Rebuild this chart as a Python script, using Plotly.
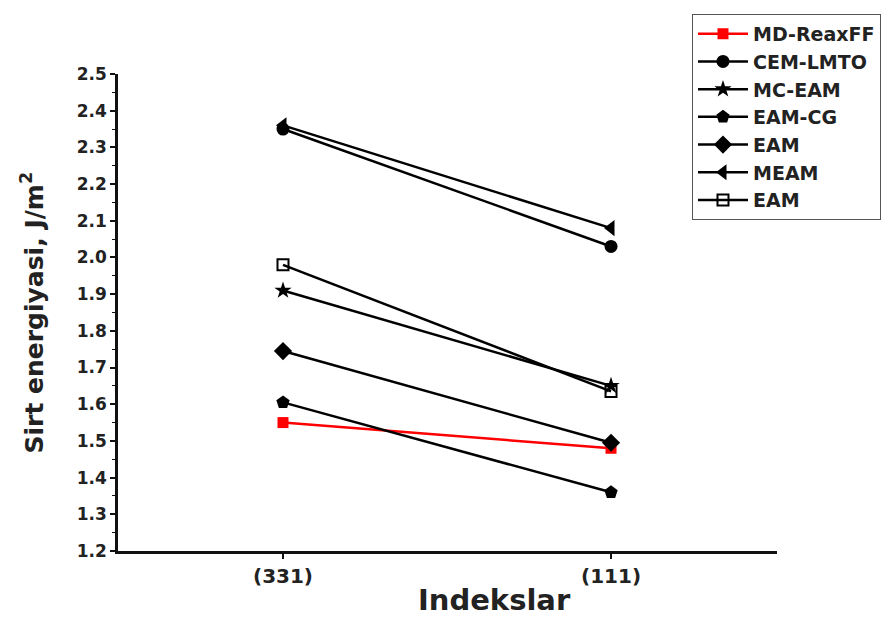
import plotly.graph_objects as go

categories = ["(331)", "(111)"]
series_names = ["MD-ReaxFF", "CEM-LMTO", "MC-EAM", "EAM-CG", "EAM", "MEAM", "EAM"]
md_reaxff = [1.55, 1.48]
cem_lmto = [2.35, 2.03]
mc_eam = [1.91, 1.65]
eam_cg = [1.605, 1.36]
eam_diamond = [1.745, 1.495]
meam = [2.36, 2.08]
eam_square = [1.98, 1.635]
y_ticks = [1.2, 1.3, 1.4, 1.5, 1.6, 1.7, 1.8, 1.9, 2.0, 2.1, 2.2, 2.3, 2.4, 2.5]
x_title = "Indekslar"
y_title = "Sirt energiyasi, J/m<sup>2</sup>"

values = [md_reaxff, cem_lmto, mc_eam, eam_cg, eam_diamond, meam, eam_square]
symbols = ["square", "circle", "star", "pentagon", "diamond", "triangle-left", "square-open"]
colors = ["#ff0000", "#000000", "#000000", "#000000", "#000000", "#000000", "#000000"]
sizes = [11, 13, 13, 14, 14, 14, 11]

fig = go.Figure()
for name, vals, sym, col, sz in zip(series_names, values, symbols, colors, sizes):
    fig.add_trace(go.Scatter(
        x=[0, 1], y=vals, mode="lines+markers", name=name,
        line=dict(color=col, width=2.5),
        marker=dict(symbol=sym, size=sz, color=col,
                    line=dict(width=2 if sym == "square-open" else 0, color=col)),
    ))

font_family = "DejaVu Sans, Arial, sans-serif"
txt = "#222222"
fig.update_layout(
    width=892, height=629,
    margin=dict(l=118, r=115, t=74, b=78, autoexpand=False),
    paper_bgcolor="white", plot_bgcolor="white",
    font=dict(family=font_family, color=txt),
    showlegend=True,
    legend=dict(
        x=0.871, y=1.126, xanchor="left", yanchor="top",
        bordercolor="#555555", borderwidth=1, bgcolor="white",
        font=dict(size=19, family=font_family, color=txt, weight="bold"),
        tracegroupgap=0, itemwidth=50,
    ),
    xaxis=dict(
        range=[-0.503, 1.506], tickmode="array", tickvals=[0, 1], ticktext=categories,
        showline=True, linecolor="#111111", linewidth=2.5, mirror=False,
        ticks="outside", ticklen=5, tickwidth=1.5, tickcolor="#111111",
        showgrid=False, zeroline=False,
        tickfont=dict(size=20, family=font_family, color=txt, weight="bold"),
    ),
    yaxis=dict(
        range=[1.2, 2.5], tickmode="array", tickvals=y_ticks,
        ticktext=[f"{v:.1f}" for v in y_ticks],
        showline=True, linecolor="#111111", linewidth=2.5, mirror=False,
        ticks="outside", ticklen=5, tickwidth=1.5, tickcolor="#111111",
        minor=dict(dtick=0.05, ticks="outside", ticklen=3, tickwidth=1, tickcolor="#111111", showgrid=False),
        showgrid=False, zeroline=False,
        tickfont=dict(size=17, family=font_family, color=txt, weight="bold"),
    ),
    annotations=[
        dict(text=x_title, xref="paper", yref="paper", x=0.571, y=-0.103,
             xanchor="center", yanchor="middle", showarrow=False,
             font=dict(size=29, family=font_family, color=txt, weight="bold")),
        dict(text=y_title, xref="paper", yref="paper", x=-0.129, y=0.5,
             xanchor="center", yanchor="middle", showarrow=False, textangle=-90,
             font=dict(size=25, family=font_family, color=txt, weight="bold")),
    ],
)

fig.write_html("out.html")
